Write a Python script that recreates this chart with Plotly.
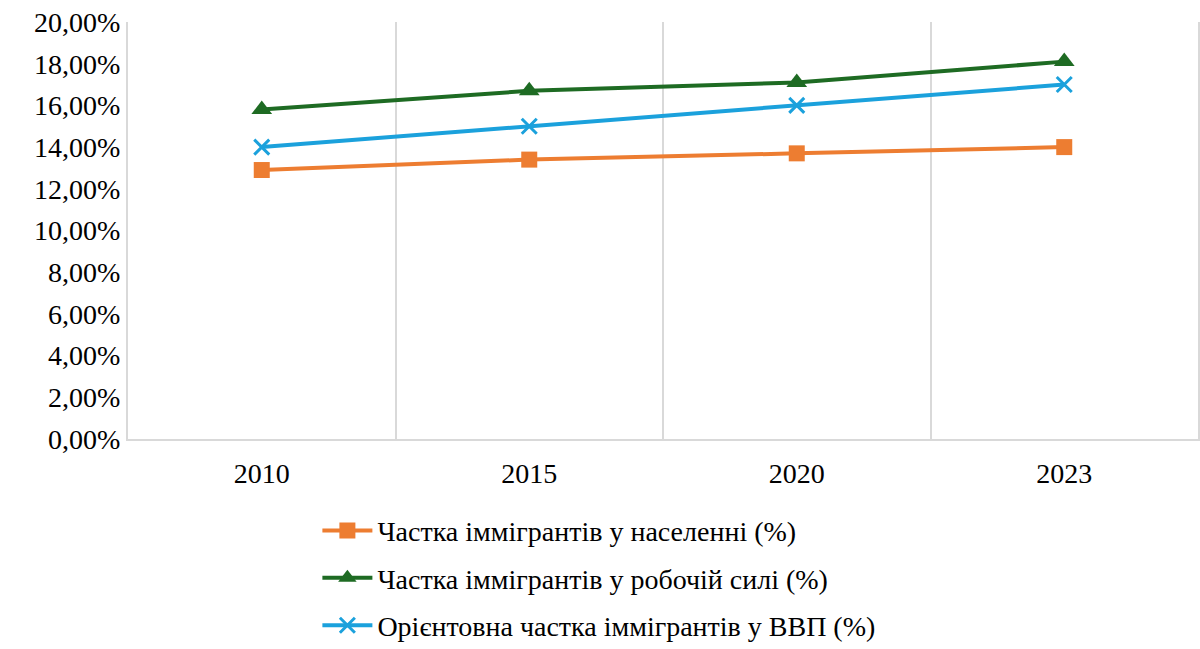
import plotly.graph_objects as go

years = ["2010", "2015", "2020", "2023"]
pop_share = [0.129, 0.134, 0.137, 0.140]
labor_share = [0.158, 0.167, 0.171, 0.181]
gdp_share = [0.140, 0.150, 0.160, 0.170]

names = [
    "Частка іммігрантів у населенні (%)",
    "Частка іммігрантів у робочій силі (%)",
    "Орієнтовна частка іммігрантів у ВВП (%)",
]
colors = ["#ED7D31", "#1E6B23", "#1BA1DC"]
symbols = ["square", "triangle-up", "x-thin"]
series = [pop_share, labor_share, gdp_share]

y_ticks = [i / 100 for i in range(0, 21, 2)]
y_labels = [f"{v*100:.2f}".replace(".", ",") + "%" for v in y_ticks]

FONT = "'Times New Roman', 'Liberation Serif', serif"

fig = go.Figure()
for i, (name, vals, col, sym) in enumerate(zip(names, series, colors, symbols)):
    marker = dict(symbol=sym, size=16, color=col)
    if sym == "triangle-up":
        marker["size"] = 18
    if sym == "x-thin":
        marker["line"] = dict(color=col, width=3)
        marker["size"] = 15
    fig.add_trace(go.Scatter(
        x=years, y=vals, name=name, mode="lines+markers",
        line=dict(color=col, width=4), marker=marker,
        legendgroup=f"g{i}",
    ))

fig.update_layout(
    width=1200, height=649,
    margin=dict(l=128, r=2, t=22, b=210, autoexpand=False),
    paper_bgcolor="white", plot_bgcolor="white",
    font=dict(family=FONT, size=28, color="black"),
    showlegend=True,
    legend=dict(
        orientation="v", x=0.177, xanchor="left",
        y=-0.160, yanchor="top",
        font=dict(family=FONT, size=28, color="black"),
        itemwidth=50, tracegroupgap=8,
    ),
)
fig.update_xaxes(
    type="category", tickson="boundaries",
    showgrid=True, gridcolor="#D9D9D9", gridwidth=2,
    showline=True, linecolor="#D9D9D9", linewidth=2,
    ticks="", tickfont=dict(family=FONT, size=28), ticklabelstandoff=8,
    tickangle=0,
    range=[-0.5, 3.5], zeroline=False,
)
fig.update_yaxes(
    range=[0, 0.2], tickvals=y_ticks, ticktext=y_labels,
    showgrid=False, zeroline=False,
    showline=True, mirror=True, linecolor="#D9D9D9", linewidth=2,
    tickfont=dict(family=FONT, size=28), ticks="",
)

fig.write_html(
    "out.html",
    config={"displayModeBar": False},
    post_script="document.body.style.margin='0';document.body.style.overflow='hidden';",
)
